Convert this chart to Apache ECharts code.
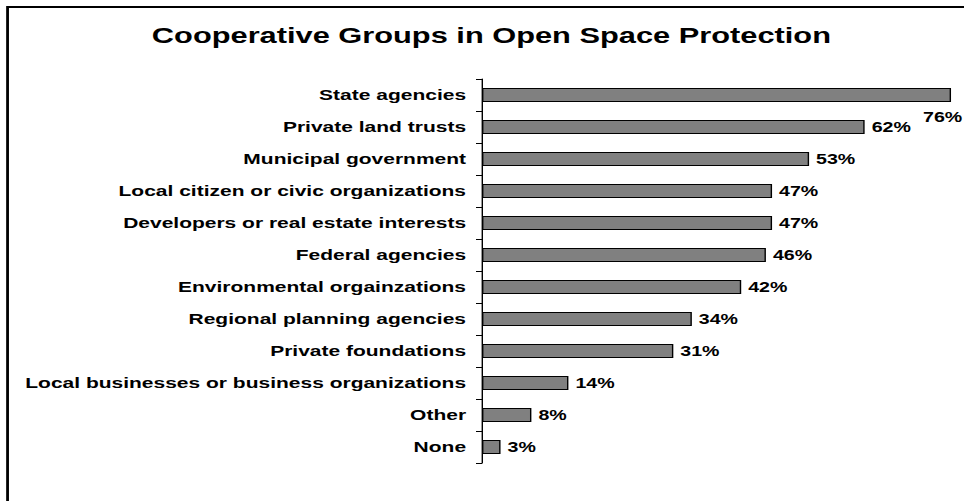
<!DOCTYPE html>
<html>
<head>
<meta charset="utf-8">
<script src="https://cdn.jsdelivr.net/npm/echarts@6/dist/echarts.min.js"></script>
<style>
  html, body { margin: 0; padding: 0; background: #fff; overflow: hidden; }
  /* The chart is laid out in a narrower box and widened horizontally,
     giving the broad, stretched lettering of the original slide. */
  #chart {
    width: 688.57px;
    height: 501px;
    transform: scaleX(1.4);
    transform-origin: 0 0;
  }
</style>
</head>
<body>
<div id="chart"></div>
<script>
// Groups the respondents cooperate with, and the share naming each one
const categories = [
  'State agencies',
  'Private land trusts',
  'Municipal government',
  'Local citizen or civic organizations',
  'Developers or real estate interests',
  'Federal agencies',
  'Environmental orgainzations',
  'Regional planning agencies',
  'Private foundations',
  'Local businesses or business organizations',
  'Other',
  'None'
];
const shares = [76, 62, 53, 47, 47, 46, 42, 34, 31, 14, 8, 3];
const titleText = 'Cooperative Groups in Open Space Protection';

const FONT = "'Liberation Sans', Arial, Helvetica, sans-serif";

// The longest bar's label does not fit at its end, so it drops below and back
const barData = shares.map((v, i) => i === 0
  ? { value: v, label: { offset: [-25, 22] } }
  : v);

const chart = echarts.init(document.getElementById('chart'), null, { renderer: 'svg' });

chart.setOption({
  animation: false,
  backgroundColor: '#ffffff',
  title: {
    text: titleText,
    left: 346,
    top: 20,
    textAlign: 'center',
    textStyle: { fontFamily: FONT, fontWeight: 'bold', fontSize: 22, color: '#000' }
  },
  graphic: [{
    type: 'rect',
    shape: { x: 5.4, y: 7, width: 1200, height: 1200 },
    style: { fill: 'none', stroke: '#000', lineWidth: 2 },
    silent: true
  }],
  grid: {
    left: 344.3,
    top: 79,
    width: 440.8,
    height: 384,
    containLabel: false,
    outerBoundsMode: 'none'
  },
  xAxis: {
    type: 'value',
    min: 0,
    max: 100,
    show: false
  },
  yAxis: {
    type: 'category',
    data: categories,
    inverse: true,
    axisLine: { show: true, lineStyle: { color: '#000', width: 1 } },
    axisTick: { show: true, length: 4.3, lineStyle: { color: '#000', width: 1 } },
    axisLabel: {
      margin: 11.4,
      color: '#000',
      fontFamily: FONT,
      fontWeight: 'bold',
      fontSize: 15
    },
    splitLine: { show: false }
  },
  series: [{
    type: 'bar',
    data: barData,
    barWidth: 14,
    itemStyle: { color: '#808080', borderColor: '#000', borderWidth: 1 },
    label: {
      show: true,
      position: 'right',
      distance: 5,
      formatter: '{c}%',
      color: '#000',
      fontFamily: FONT,
      fontWeight: 'bold',
      fontSize: 14
    }
  }]
});
</script>
</body>
</html>
